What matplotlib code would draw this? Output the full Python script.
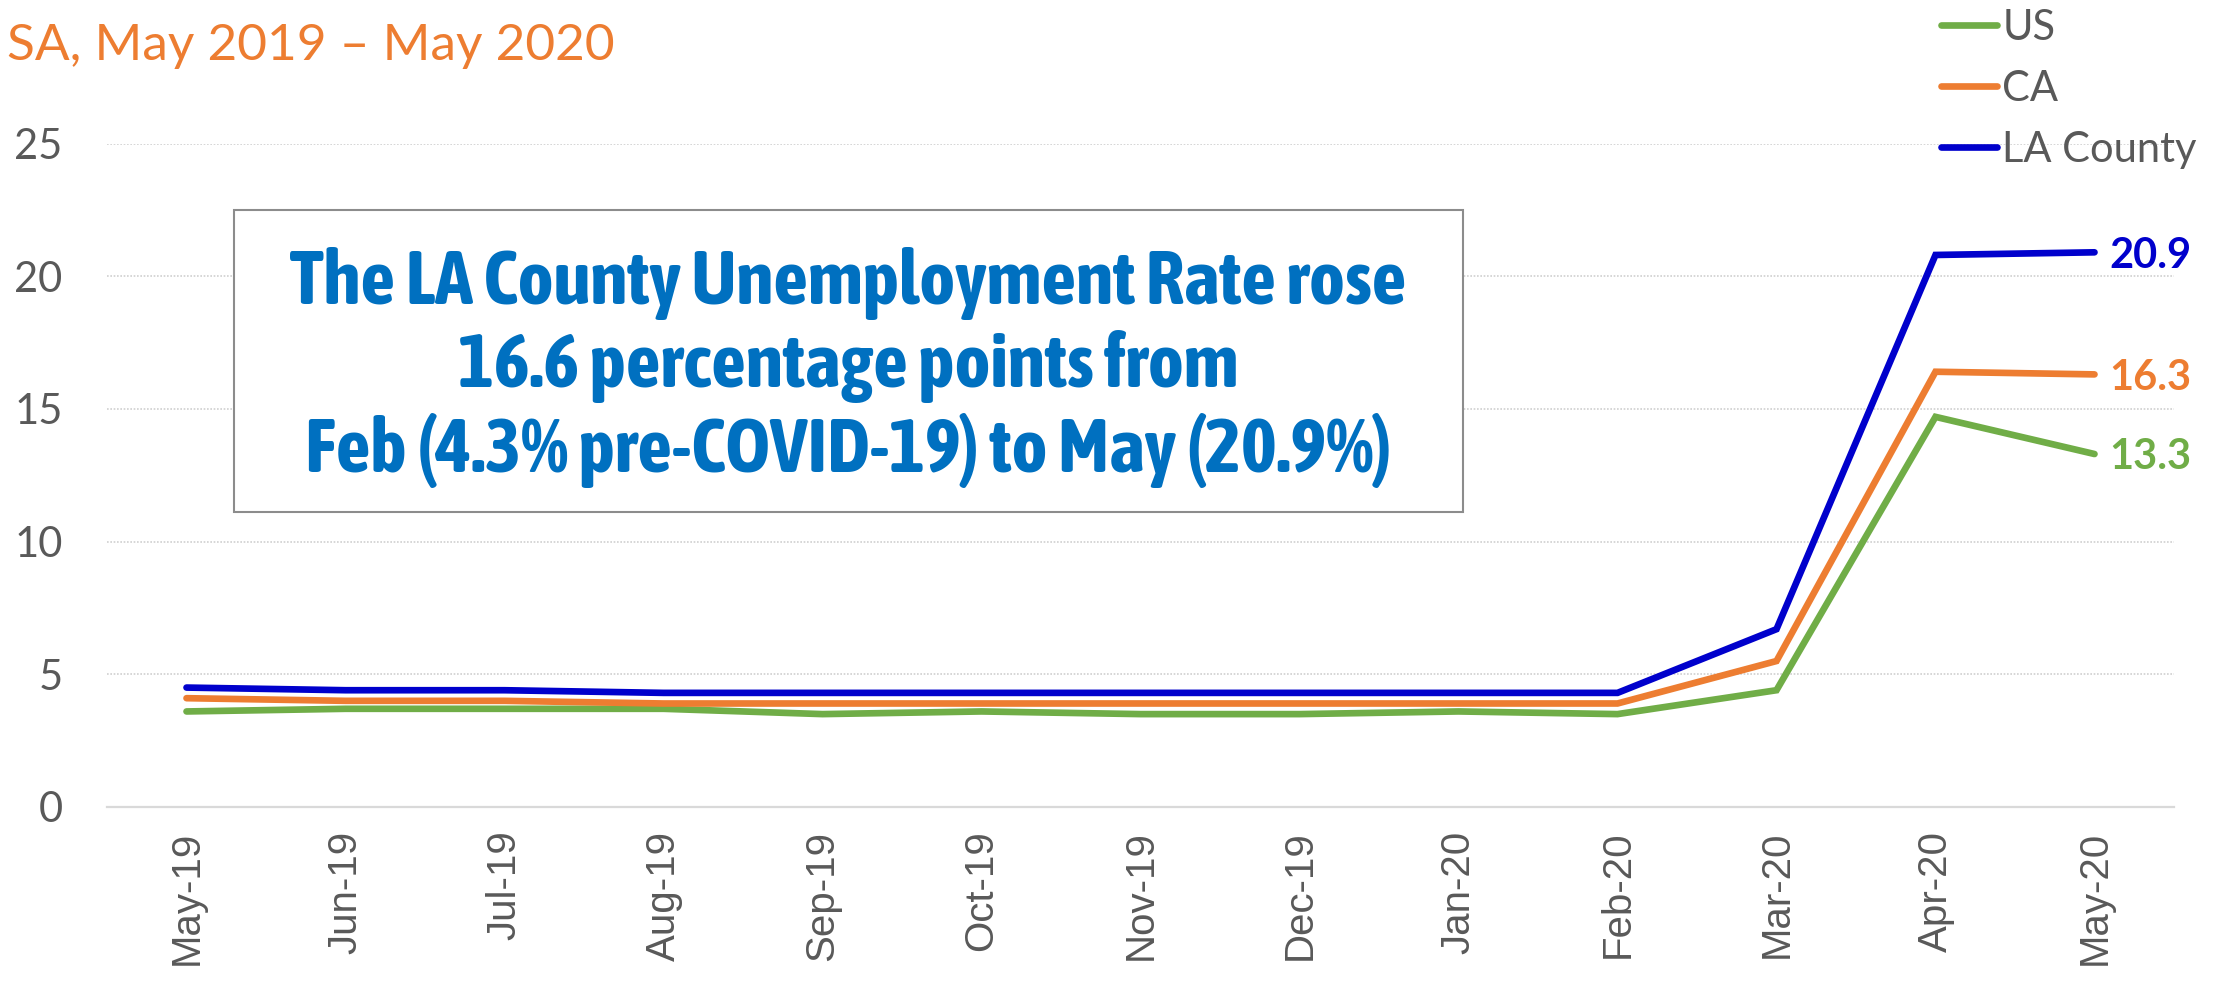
import matplotlib
matplotlib.use("Agg")
import matplotlib.pyplot as plt
from matplotlib import font_manager
from matplotlib.patches import Rectangle

# data
months = ["May-19", "Jun-19", "Jul-19", "Aug-19", "Sep-19", "Oct-19", "Nov-19",
          "Dec-19", "Jan-20", "Feb-20", "Mar-20", "Apr-20", "May-20"]
us = [3.6, 3.7, 3.7, 3.7, 3.5, 3.6, 3.5, 3.5, 3.6, 3.5, 4.4, 14.7, 13.3]
ca = [4.1, 4.0, 4.0, 3.9, 3.9, 3.9, 3.9, 3.9, 3.9, 3.9, 5.5, 16.4, 16.3]
la = [4.5, 4.4, 4.4, 4.3, 4.3, 4.3, 4.3, 4.3, 4.3, 4.3, 6.7, 20.8, 20.9]
series = [("US", us, "#70AD47"), ("CA", ca, "#ED7D31"), ("LA County", la, "#0000CC")]
yticks = [0, 5, 10, 15, 20, 25]

title = "SA, May 2019 \u2013 May 2020"
note = ("The LA County Unemployment Rate rose\n"
        "16.6 percentage points from\n"
        "Feb (4.3% pre-COVID-19) to May (20.9%)")

W, H = 2227, 985
gray = "#595959"


def pick_narrow_bold():
    # look for a narrow / condensed bold sans, else plain Liberation Sans bold
    good = []
    for f in font_manager.fontManager.ttflist:
        nm = f.name.lower()
        stretch = str(f.stretch).lower()
        narrowish = ("narrow" in nm or "condensed" in nm or "condensed" in stretch)
        if narrowish and f.weight in ("bold", 700) and "extra" not in nm and "extra" not in stretch:
            good.append(f)
    good.sort(key=lambda f: (0 if "liberation" in f.name.lower() else
                             1 if "noto sans" in f.name.lower() else 2, f.name))
    if good:
        return font_manager.FontProperties(fname=good[0].fname)
    return font_manager.FontProperties(family="Liberation Sans", weight="bold")


fig = plt.figure(figsize=(W / 100, H / 100), dpi=100)
ax = fig.add_axes([107 / W, 1 - 807 / H, (2174 - 107) / W, (807 - 143.5) / H])

x = list(range(len(months)))
for name, vals, col in series:
    ax.plot(x, vals, color=col, lw=4.8, solid_capstyle="round",
            solid_joinstyle="miter", label=name)
    # value label at the last point
    ax.annotate(f"{vals[-1]:.1f}", (x[-1], vals[-1]), xytext=(11, -11),
                textcoords="offset points", va="baseline", ha="left",
                color=col, fontsize=30, fontweight="bold", family="Lato")

ax.set_xlim(-0.5, len(months) - 0.5)
ax.set_ylim(0, 25)
ax.set_yticks(yticks)
ax.set_xticks(x)
ax.set_xticklabels(months, rotation=90, family="Liberation Sans", fontsize=29, color=gray)
ax.set_yticklabels([str(t) for t in yticks], family="Lato", fontsize=30, color=gray)
ax.tick_params(axis="x", length=0, pad=17)
ax.tick_params(axis="y", length=0, pad=32)

for t in yticks[1:]:
    ax.axhline(t, color="#CFCFCF", lw=1.2, ls=(0, (1, 1)), zorder=0)
for s in ["top", "right", "left"]:
    ax.spines[s].set_visible(False)
ax.spines["bottom"].set_color("#D9D9D9")
ax.spines["bottom"].set_linewidth(1.6)

leg = ax.legend(loc="upper left", bbox_to_anchor=(1941 / W, 1 - 9 / H),
                bbox_transform=fig.transFigure, frameon=False, borderpad=0,
                borderaxespad=0, handlelength=1.35, handletextpad=0.12,
                labelspacing=0.55, prop={"family": "Lato", "size": 30})
for txt in leg.get_texts():
    txt.set_color(gray)
for ln in leg.get_lines():
    ln.set_solid_capstyle("round")

fig.text(7 / W, 1 - 60 / H, title, color="#ED7D31", fontsize=37,
         family="Lato", va="baseline", ha="left")

# callout box
fig.patches.append(Rectangle((234 / W, 1 - 512 / H), (1463 - 234) / W, (512 - 210) / H,
                             transform=fig.transFigure, fill=True, facecolor="white",
                             edgecolor="#8C8C8C", lw=1.5, zorder=3))

fp = pick_narrow_bold()
renderer = fig.canvas.get_renderer()
probe = fig.text(0, 0, note.split("\n")[0], fontproperties=fp, fontsize=50)
wpx = probe.get_window_extent(renderer).width
probe.remove()
size = min(55, 50 * 1157 / wpx)
fp.set_size(size)
em = size * 100 / 72
fig.text(848 / W, 1 - 472 / H, note, color="#0070C0", fontproperties=fp,
         ha="center", va="baseline", multialignment="center",
         linespacing=89.5 / em, zorder=4)

fig.savefig("out.png", dpi=100)
